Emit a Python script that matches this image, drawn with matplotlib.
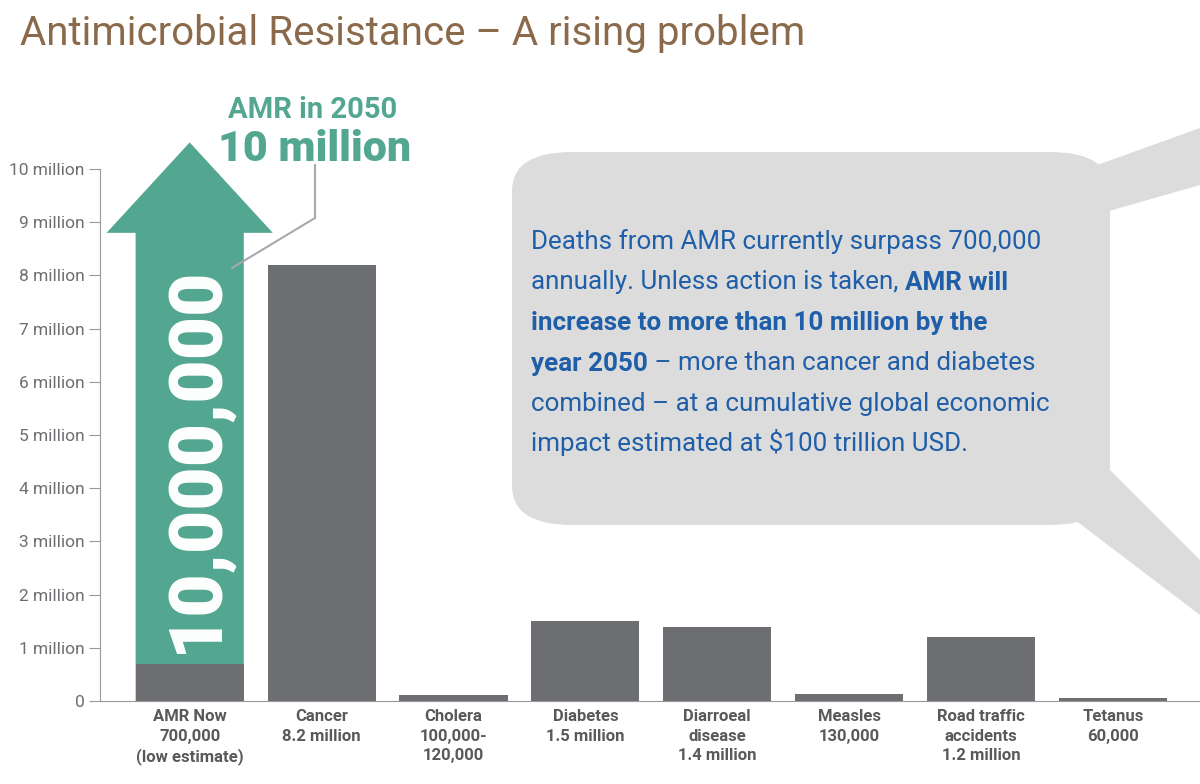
import matplotlib
matplotlib.use('Agg')
from matplotlib import pyplot as plt
from matplotlib.patches import Polygon, FancyBboxPatch
from matplotlib.lines import Line2D

categories = ['AMR Now\n700,000\n(low estimate)', 'Cancer\n8.2 million', 'Cholera\n100,000-\n120,000',
              'Diabetes\n1.5 million', 'Diarroeal\ndisease\n1.4 million', 'Measles\n130,000',
              'Road traffic\naccidents\n1.2 million', 'Tetanus\n60,000']
deaths_m = [0.7, 8.2, 0.11, 1.5, 1.4, 0.13, 1.2, 0.06]
amr_2050_m = 10.0
yticks = list(range(0, 11))
ylabels = ['0'] + ['%d million' % v for v in range(1, 11)]

W, H = 1200, 784
fig = plt.figure(figsize=(12, 7.84), dpi=100)
plt.rcParams['font.family'] = ['Roboto', 'DejaVu Sans']


def px(x, y):
    return (x / W, 1 - y / H)


# speech bubble (background, figure coords)
grey = '#dcdcdd'
bx0, by0 = px(512, 525)
bx1, by1 = px(1110, 152)
fig.patches.append(FancyBboxPatch((bx0, by0), bx1 - bx0, by1 - by0,
                                  boxstyle='round,pad=0,rounding_size=0.05',
                                  transform=fig.transFigure, fc=grey, ec='none', zorder=0))
fig.patches.append(Polygon([px(1050, 182), px(1200, 128), px(1200, 185), px(1095, 215), px(1080, 215)],
                           transform=fig.transFigure, fc=grey, ec='none', zorder=0))
fig.patches.append(Polygon([px(1100, 460), px(1200, 560), px(1200, 615), px(1075, 520)],
                           transform=fig.transFigure, fc=grey, ec='none', zorder=0))

ax = fig.add_axes([100 / W, 1 - 701 / H, 1100 / W, (701 - 169) / H])
ax.patch.set_alpha(0)
x = list(range(len(categories)))
ax.set_xlim(-0.68, 7.66)
ax.set_ylim(0, 10)

# arrow for AMR 2050
green = '#53a68f'
hw, sw = 0.63, 0.41
head_base = 8.8
arrow = Polygon([(-sw, 0), (sw, 0), (sw, head_base), (hw, head_base), (0, amr_2050_m + 0.5),
                 (-hw, head_base), (-sw, head_base)], fc=green, ec='none', clip_on=False, zorder=2)
ax.add_patch(arrow)
ax.text(0.05, 4.55, '10,000,000', rotation=90, color='white', fontsize=54, fontweight='black',
        ha='center', va='center', zorder=4)

ax.bar(x, deaths_m, width=0.82, color='#6d6e71', zorder=3)

ax.set_yticks(yticks)
ax.set_yticklabels(ylabels, fontsize=12.5, color='#6d6e71')
ax.set_xticks(x)
ax.set_xticklabels(categories, fontsize=12, fontweight='bold', color='#58595b', linespacing=1.35)
ax.tick_params(axis='y', direction='out', length=8, color='#999999', pad=3)
ax.tick_params(axis='x', length=0, pad=6)
for s in ['top', 'right']:
    ax.spines[s].set_visible(False)
for s in ['left', 'bottom']:
    ax.spines[s].set_color('#999999')

# title
fig.text(*px(20, 45), 'Antimicrobial Resistance \u2013 A rising problem', fontsize=29,
         color='#8b6a4b', va='baseline')

# AMR 2050 label
fig.text(*px(313, 118), 'AMR in 2050', fontsize=21, fontweight='bold', color=green, ha='center', va='baseline')
fig.text(*px(315, 161), '10 million', fontsize=31, fontweight='black', color=green, ha='center', va='baseline')
fig.lines.append(Line2D([315 / W, 315 / W, 232 / W], [1 - 165 / H, 1 - 218 / H, 1 - 268 / H],
                        transform=fig.transFigure, color='#a7a9ac', lw=1.5, zorder=5))

# bubble text with mixed weight
blue = '#1f5ea8'
lines = [
    [('Deaths from AMR currently surpass 700,000', 'normal')],
    [('annually. Unless action is taken, ', 'normal'), ('AMR will', 'bold')],
    [('increase to more than 10 million by the', 'bold')],
    [('year 2050', 'bold'), (' \u2013 more than cancer and diabetes', 'normal')],
    [('combined \u2013 at a cumulative global economic', 'normal')],
    [('impact estimated at $100 trillion USD.', 'normal')],
]
fig.canvas.draw()
r = fig.canvas.get_renderer()
y0 = 249
for i, segs in enumerate(lines):
    xp = 531
    for txt, wgt in segs:
        t = fig.text(*px(xp, y0 + i * 40.5), txt, fontsize=18.7, fontweight=wgt, color=blue, va='baseline')
        xp += t.get_window_extent(r).width

fig.savefig('out.png', dpi=100)
